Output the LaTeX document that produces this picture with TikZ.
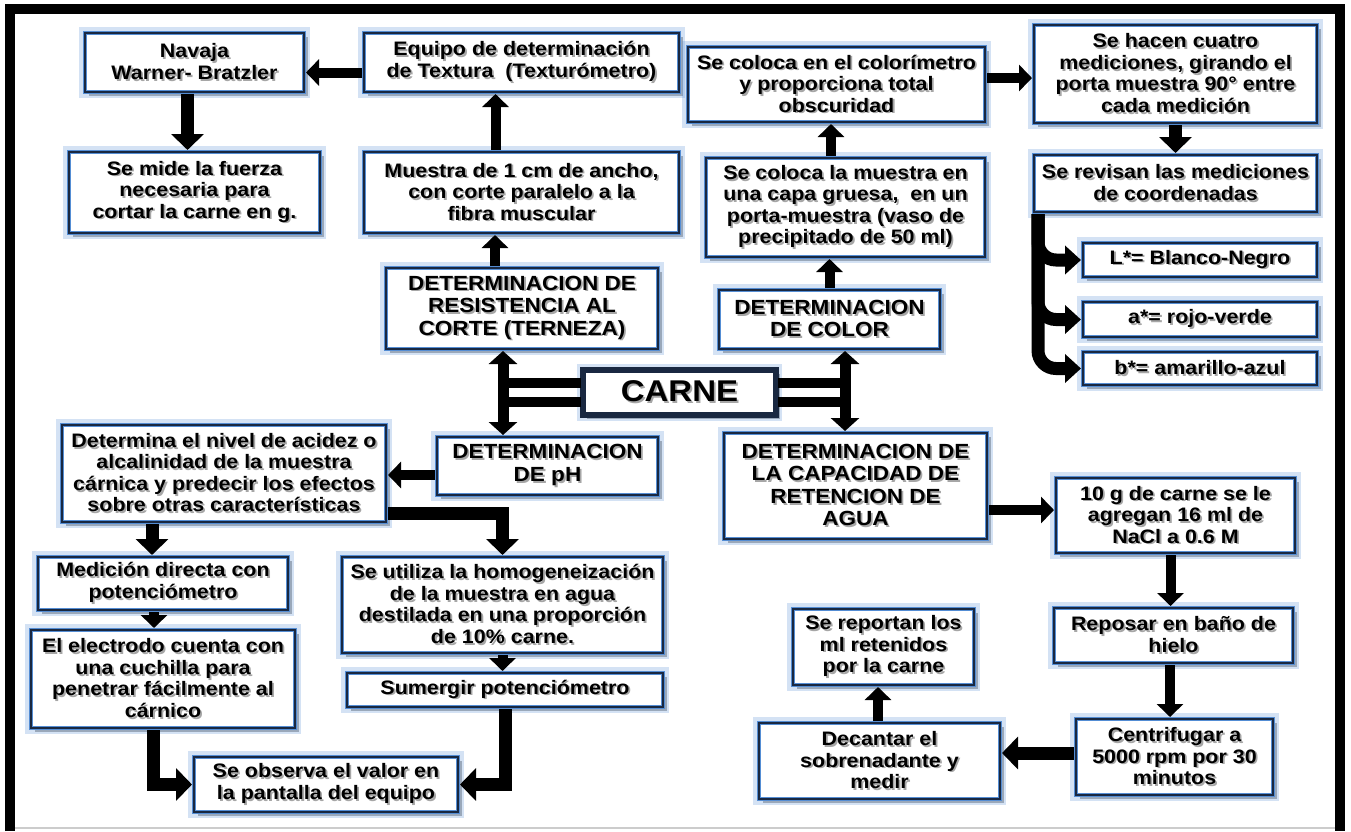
\documentclass[tikz,border=0pt]{standalone}
\usepackage{fontspec}
\newfontfamily\bx{Liberation Sans}[FakeStretch=1.1]
\usetikzlibrary{arrows.meta,shadows,calc}
\definecolor{glowc}{RGB}{84,141,212}
\definecolor{boxline}{RGB}{25,40,65}
\newcommand\ts[1]{\leavevmode\rlap{\raisebox{-1.8pt}{\hspace{1.8pt}\textcolor{black!35}{#1}}}#1}
\tikzset{
  box/.style={rectangle, inner sep=0pt, outer sep=2pt, align=center,
    font=\bx\bfseries\fontsize{19.5}{21.5}\selectfont,
    drop shadow={shadow xshift=4pt, shadow yshift=-4pt, opacity=0.3, fill=black},
    preaction={draw=glowc, line width=12pt, opacity=0.25},
    fill=white, draw=glowc, line width=4.5pt,
    postaction={draw=boxline, line width=1.2pt}},
  head/.style={font=\bx\bfseries\fontsize{20.5}{22.5}\selectfont},
  sz/.style 2 args={minimum width=#1pt, minimum height=#2pt},
  arr/.style={draw=black, line width=10pt, -{Triangle[length=13pt,width=26pt]}},
  bigarr/.style={draw=black, line width=13pt, -{Triangle[length=16pt,width=32pt]}},
  carr/.style={draw=black, line width=13pt, rounded corners=18pt, -{Triangle[length=16pt,width=28pt]}},
  dbl/.style={draw=black, line width=11pt, {Triangle[length=13pt,width=28pt]}-{Triangle[length=13pt,width=28pt]}},
  bar/.style={draw=black, line width=10pt},
}
\begin{document}
\begin{tikzpicture}[x=1pt,y=-1pt]
\useasboundingbox (0,0) rectangle (1351,831);
% frame
\draw[black, line width=10pt] (9.5,831) -- (9.5,8.5) -- (1340,8.5) -- (1340,831);
\draw[black!20, line width=1.5pt] (15,828) -- (1335,828);

% top row
\node[box, sz={219}{59}] (navaja) at (194.5,62.5) {\ts{Navaja}\\\ts{Warner- Bratzler}};
\node[box, sz={315}{59}] (equipo) at (521.5,62.5) {\ts{Equipo de determinación}\\\ts{de Textura\ \ (Texturómetro)}};
\node[box, sz={297}{75}] (colorim) at (836.5,84.5) {\ts{Se coloca en el colorímetro}\\\ts{y proporciona total}\\\ts{obscuridad}};
\node[box, sz={283}{98}] (hacen) at (1175.5,74) {\ts{Se hacen cuatro}\\\ts{mediciones, girando el}\\\ts{porta muestra 90° entre}\\\ts{cada medición}};
% second row
\node[box, sz={251}{81}] (mide) at (194.5,192.5) {\ts{Se mide la fuerza}\\\ts{necesaria para}\\\ts{cortar la carne en g.}};
\node[box, sz={315}{81}] (muestra) at (521.5,192.5) {\ts{Muestra de 1 cm de ancho,}\\\ts{con corte paralelo a la}\\\ts{fibra muscular}};
\node[box, sz={279}{99}] (colmuestra) at (845.5,207.5) {\ts{Se coloca la muestra en}\\\ts{una capa gruesa,\ \ en un}\\\ts{porta-muestra (vaso de}\\\ts{precipitado de 50 ml)}};
\node[box, sz={283}{57}] (revisan) at (1175.5,183.5) {\ts{Se revisan las mediciones}\\\ts{de coordenadas}};
\node[box, sz={234}{34}] (lbox) at (1200,260) {\ts{L*= Blanco-Negro}};
\node[box, sz={234}{35}] (abox) at (1200,319.5) {\ts{a*= rojo-verde}};
\node[box, sz={234}{33}] (bbox) at (1200,368.5) {\ts{b*= amarillo-azul}};
% center
\node[box, head, sz={272}{81}] (resist) at (522,308.5) {\ts{DETERMINACION DE}\\\ts{RESISTENCIA AL}\\\ts{CORTE (TERNEZA)}};
\node[box, head, sz={221}{59}] (color) at (829.5,319.5) {\ts{DETERMINACION}\\\ts{DE COLOR}};
\node[box, sz={193}{45}, double=white, double distance=2.5pt, line width=1.5pt, draw=boxline,
      font=\bx\bfseries\fontsize{30}{32}\selectfont] (carne) at (679.5,392.5) {\ts{CARNE}};
\node[box, head, sz={221}{58}] (ph) at (547.5,466) {\ts{DETERMINACION}\\\ts{DE pH}};
\node[box, head, sz={263}{106}] (capac) at (855.5,486) {\ts{DETERMINACION DE}\\\ts{LA CAPACIDAD DE}\\\ts{RETENCION DE}\\\ts{AGUA}};
\node[box, sz={324}{97}] (determina) at (224,473.5) {\ts{Determina el nivel de acidez o}\\\ts{alcalinidad de la muestra}\\\ts{cárnica y predecir los efectos}\\\ts{sobre otras características}};
\node[box, sz={239}{75}] (diez) at (1175.5,515.5) {\ts{10 g de carne se le}\\\ts{agregan 16 ml de}\\\ts{NaCl a 0.6 M}};
% bottom left
\node[box, sz={250}{53}] (medicion) at (163,583.5) {\ts{Medición directa con}\\\ts{potenciómetro}};
\node[box, sz={264}{98}] (electrodo) at (163,679) {\ts{El electrodo cuenta con}\\\ts{una cuchilla para}\\\ts{penetrar fácilmente al}\\\ts{cárnico}};
\node[box, sz={321}{96}] (utiliza) at (502.5,605) {\ts{Se utiliza la homogeneización}\\\ts{de la muestra en agua}\\\ts{destilada en una proporción}\\\ts{de 10\% carne.}};
\node[box, sz={316}{34}] (sumergir) at (505,690) {\ts{Sumergir potenciómetro}};
\node[box, sz={264}{55}] (observa) at (326,784.5) {\ts{Se observa el valor en}\\\ts{la pantalla del equipo}};
% bottom right
\node[box, sz={239}{55}] (reposar) at (1173.5,635.5) {\ts{Reposar en baño de}\\\ts{hielo}};
\node[box, sz={197}{76}] (centrif) at (1174.5,757) {\ts{Centrifugar a}\\\ts{5000 rpm por 30}\\\ts{minutos}};
\node[box, sz={181}{76}] (reportan) at (883.5,647) {\ts{Se reportan los}\\\ts{ml retenidos}\\\ts{por la carne}};
\node[box, sz={241}{76}] (decantar) at (879.5,761) {\ts{Decantar el}\\\ts{sobrenadante y}\\\ts{medir}};

% helper coordinates
\coordinate (eq1) at ([yshift=-10pt]equipo.west);
\coordinate (nv1) at ([xshift=-7pt]navaja.south);
\coordinate (mu1) at ([xshift=-26pt]muestra.north);
\coordinate (rs1) at ([xshift=-27pt]resist.north);
\coordinate (cm1) at ([xshift=-14.5pt]colmuestra.north);
\coordinate (co1) at ([yshift=6.5pt]colorim.east);
\coordinate (rv1) at ([xshift=6pt]revisan.south west);
\coordinate (lv) at ([xshift=-19pt]resist.south);
\coordinate (lv2) at ([xshift=-44.5pt]ph.north);
\coordinate (cw1) at ([yshift=9.5pt]carne.west);
\coordinate (cw2) at ([yshift=-9.5pt]carne.west);
\coordinate (rv) at ([xshift=15.5pt]color.south);
\coordinate (rv2) at ([xshift=-10.5pt]capac.north);
\coordinate (ce1) at ([yshift=9.5pt]carne.east);
\coordinate (ce2) at ([yshift=-9.5pt]carne.east);
\coordinate (ph1) at ([yshift=-9pt]ph.west);
\coordinate (dt1) at ([yshift=11pt]determina.south east);
\coordinate (m1) at ([xshift=-11pt]medicion.north);
\coordinate (m2) at ([xshift=-9pt]medicion.south);
\coordinate (e1) at ([xshift=-10pt]electrodo.south);
\coordinate (ca1) at ([yshift=-24pt]capac.east);
\coordinate (d1) at ([xshift=-5pt]diez.south);
\coordinate (r1) at ([xshift=-3.5pt]reposar.south);
\coordinate (c1) at ([yshift=4pt]centrif.west);
\coordinate (dc) at ([xshift=-1.5pt]decantar.north);

% connectors
\draw[arr] (eq1) -- (eq1 -| navaja.east);
\draw[bigarr] (nv1) -- (nv1 |- mide.north);
\draw[arr] (mu1) -- (mu1 |- equipo.south);
\draw[arr] (rs1) -- (rs1 |- muestra.south);
\draw[arr] (cm1) -- (cm1 |- colorim.south);
\draw[arr] (color.north) -- (color.north |- colmuestra.south);
\draw[arr] (co1) -- (co1 -| hacen.west);
\draw[bigarr] (hacen.south) -- (revisan.north);
\draw[carr] (rv1) |- (lbox.west);
\draw[carr] (rv1) |- (abox.west);
\draw[carr] (rv1) |- (bbox.west);
% carne
\draw[dbl] (lv2) -- (lv);
\draw[bar] (cw1) -- (cw1 -| lv);
\draw[bar] (cw2) -- (cw2 -| lv);
\draw[dbl] (rv2) -- (rv);
\draw[bar] (ce1) -- (ce1 -| rv);
\draw[bar] (ce2) -- (ce2 -| rv);
% pH branch
\draw[arr] (ph1) -- (ph1 -| determina.east);
\draw[bigarr] (dt1) -| (utiliza.north);
\draw[bigarr] (m1 |- determina.south) -- (m1);
\draw[arr] (m2) -- (m2 |- electrodo.north);
\draw[arr] (utiliza.south) -- (utiliza.south |- sumergir.north);
\draw[bigarr] (e1) |- (observa.west);
\draw[bigarr] (sumergir.south) |- (observa.east);
% water branch
\draw[arr] (ca1) -- (ca1 -| diez.west);
\draw[arr] (d1) -- (d1 |- reposar.north);
\draw[arr] (r1) -- (r1 |- centrif.north);
\draw[bigarr] (c1) -- (c1 -| decantar.east);
\draw[arr] (dc) -- (dc |- reportan.south);
\end{tikzpicture}
\end{document}
